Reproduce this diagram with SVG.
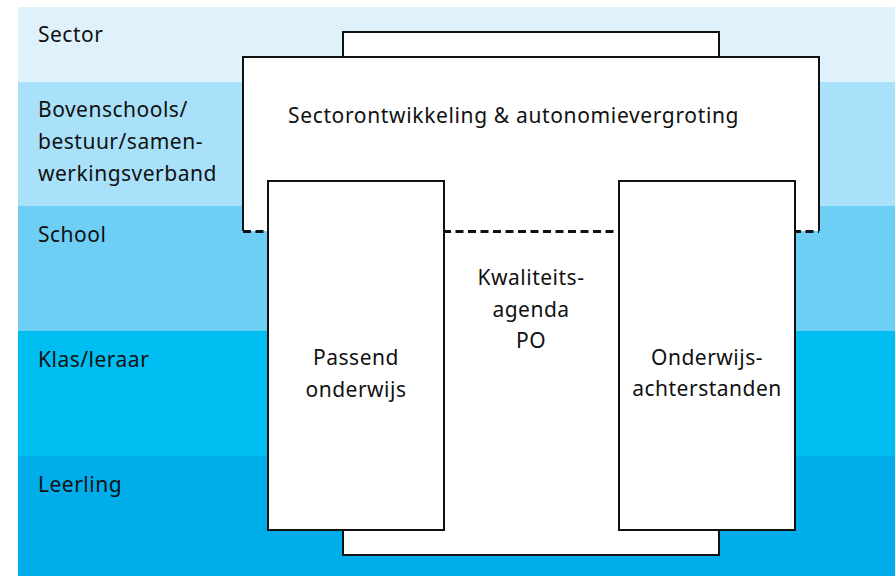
<svg xmlns="http://www.w3.org/2000/svg" width="895" height="576" viewBox="0 0 895 576">
<style>
.lbl{font-family:"Noto Sans","Open Sans",sans-serif;font-size:21px;letter-spacing:0.5px;fill:#111}
.c{text-anchor:middle}
.box{fill:#fff;stroke:#111;stroke-width:2}
</style>
<rect x="0" y="0" width="895" height="576" fill="#fff"/>
<g id="bands">
<rect x="18" y="7" width="877" height="75" fill="#dff2fc"/>
<rect x="18" y="82" width="877" height="124" fill="#a8e1f9"/>
<rect x="18" y="206" width="877" height="125" fill="#6dcff5"/>
<rect x="18" y="331" width="877" height="125" fill="#00bdf2"/>
<rect x="18" y="456" width="877" height="120" fill="#00adeb"/>
<text class="lbl" x="38" y="42">Sector</text>
<text class="lbl" x="38" y="117">Bovenschools/</text>
<text class="lbl" x="38" y="149">bestuur/samen-</text>
<text class="lbl" x="38" y="181">werkingsverband</text>
<text class="lbl" x="38" y="242">School</text>
<text class="lbl" x="38" y="367">Klas/leraar</text>
<text class="lbl" x="38" y="492">Leerling</text>
</g>
<g id="kwaliteitsagenda">
<rect class="box" x="343" y="32" width="376" height="523"/>
</g>
<g id="sectorontwikkeling">
<path d="M243 231 V57 H819 V231" fill="#fff" stroke="#111" stroke-width="2"/>
<text class="lbl" x="288" y="123" textLength="451">Sectorontwikkeling &amp; autonomievergroting</text>
</g>
<g id="connectors">
<line x1="243" y1="231.5" x2="819" y2="231.5" stroke="#111" stroke-width="3" stroke-dasharray="8 4.5"/>
</g>
<g id="kwaliteitsagenda-label">
<text class="lbl c" x="531" y="285">Kwaliteits-</text>
<text class="lbl c" x="531" y="317">agenda</text>
<text class="lbl c" x="531" y="348">PO</text>
</g>
<g id="passend">
<rect class="box" x="268" y="181" width="176" height="349"/>
<text class="lbl c" x="356" y="365">Passend</text>
<text class="lbl c" x="356" y="397">onderwijs</text>
</g>
<g id="onderwijsachterstanden">
<rect class="box" x="619" y="181" width="176" height="349"/>
<text class="lbl c" x="707" y="365">Onderwijs-</text>
<text class="lbl c" x="707" y="396">achterstanden</text>
</g>
</svg>
